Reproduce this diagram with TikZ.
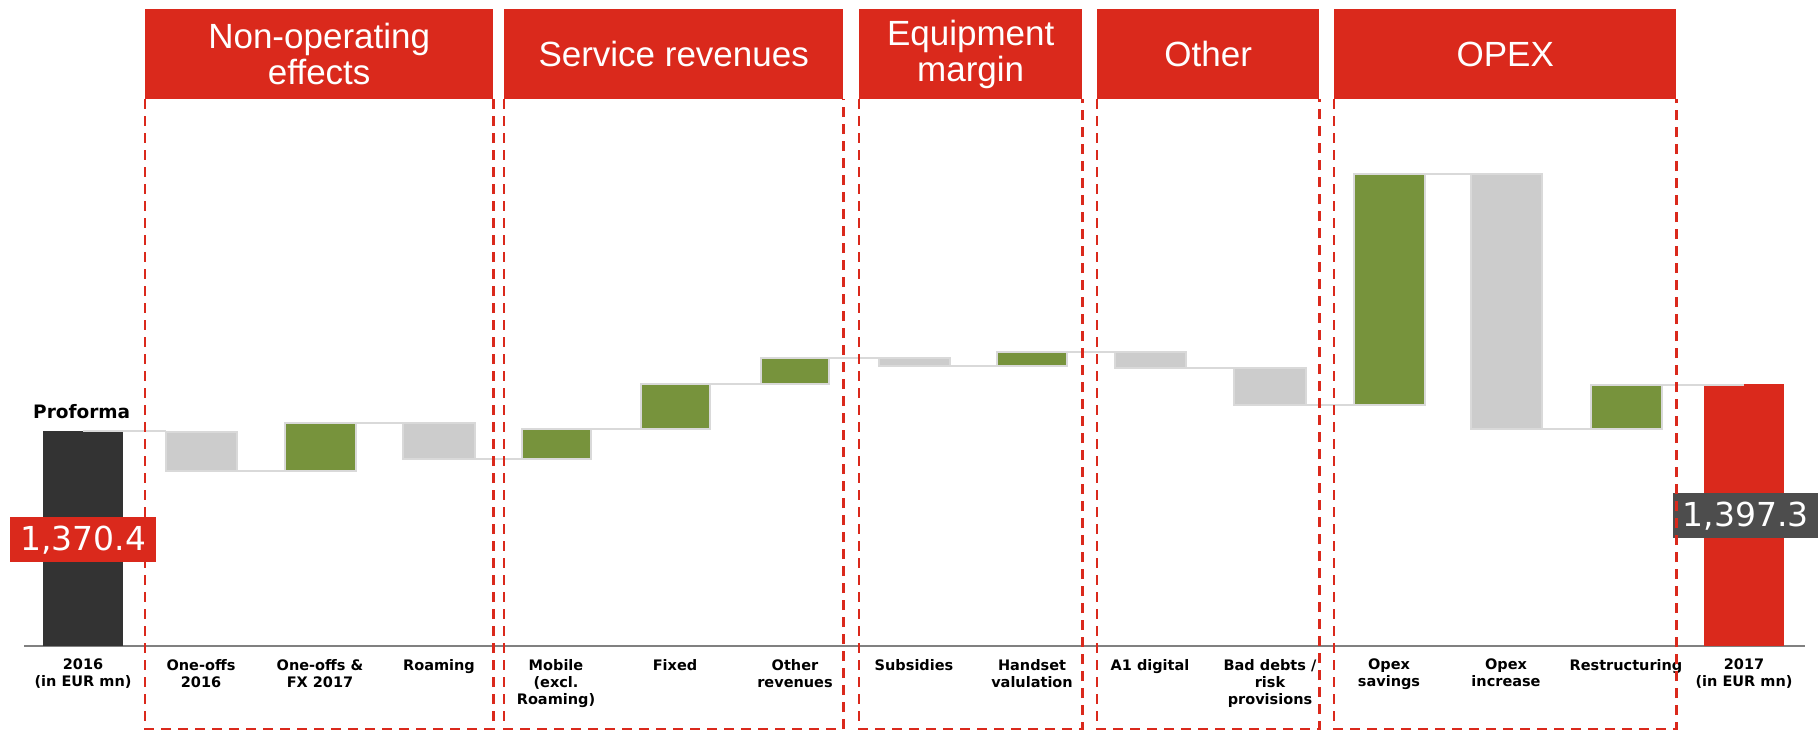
\documentclass[tikz,border=0pt]{standalone}
\usepackage{fontspec}
\setmainfont{DejaVu Sans}
\newfontfamily\hdrfont{Liberation Sans}
\usetikzlibrary{fit}
\definecolor{tred}{HTML}{DA291C}
\definecolor{tgreen}{HTML}{77933C}
\definecolor{tgray}{HTML}{CCCCCC}
\definecolor{tline}{HTML}{D9D9D9}
\definecolor{tdark}{HTML}{333333}
\definecolor{tval}{HTML}{4D4D4D}
\definecolor{taxis}{HTML}{808080}
\begin{document}
\begin{tikzpicture}[x=1pt,y=-1pt,
 hdrbox/.style={fill=tred, inner sep=0, text=white, align=center, anchor=north west,
   minimum height=90pt, font=\hdrfont\fontsize{35}{36}\selectfont},
 dashbox/.style={draw=tred, line width=2.5pt, dash pattern=on 10pt off 7pt},
 gbar/.style={fill=tgray, draw=tline, line width=2pt, inner sep=0, outer sep=0},
 grbar/.style={fill=tgreen, draw=tline, line width=2pt, inner sep=0, outer sep=0},
 endbar/.style={inner sep=0, outer sep=0, draw=none},
 conn/.style={draw=tline, line width=2.5pt},
 cat/.style={anchor=north, align=center, inner sep=0, font=\bfseries\fontsize{14.5}{17}\selectfont},
 valbox/.style={text=white, inner sep=0, font=\fontsize{33}{33}\selectfont, anchor=north west, minimum height=45pt},
]
\useasboundingbox (0,0) rectangle (1818,731);
\coordinate (bot) at (0,729);

% headers
\node[hdrbox, minimum width=348pt] (h1) at (145,9) {Non-operating\\effects};
\node[hdrbox, minimum width=339pt] (h2) at (504,9) {Service revenues};
\node[hdrbox, minimum width=223pt] (h3) at (859,9) {Equipment\\margin};
\node[hdrbox, minimum width=222pt] (h4) at (1097,9) {Other};
\node[hdrbox, minimum width=342pt] (h5) at (1334,9) {OPEX};

% axis
\coordinate (axl) at (24,646);
\coordinate (axr) at (1805,646);
\draw[taxis, line width=2.5pt] (axl) -- (axr);

% bars
\node[endbar, fill=tdark, fit={(43,431) (123,646)}] (b2016) {};
\node[gbar, fit={(166,432) (237,471)}] (one16) {};
\node[grbar, fit={(285,423) (356,471)}] (onefx) {};
\node[gbar, fit={(403,423) (475,459)}] (roam) {};
\node[grbar, fit={(522,429) (591,459)}] (mobile) {};
\node[grbar, fit={(641,384) (710,429)}] (fixed) {};
\node[grbar, fit={(761,358) (829,384)}] (othrev) {};
\node[gbar, fit={(879,358) (950,366)}] (subs) {};
\node[grbar, fit={(997,352) (1067,366)}] (hand) {};
\node[gbar, fit={(1115,352) (1186,368)}] (aone) {};
\node[gbar, fit={(1234,368) (1306,405)}] (bad) {};
\node[grbar, fit={(1354,174) (1425,405)}] (osav) {};
\node[gbar, fit={(1471,174) (1542,429)}] (oinc) {};
\node[grbar, fit={(1591,385) (1662,429)}] (restr) {};
\node[endbar, fill=tred, fit={(1704,384) (1784,646)}] (b2017) {};

% connectors (horizontal, from one bar edge to the next bar)
\draw[conn] (b2016.north) -- (b2016.north -| one16.west);
\draw[conn] (one16.south east) -- (one16.south east -| onefx.west);
\draw[conn] (onefx.north east) -- (onefx.north east -| roam.west);
\draw[conn] (roam.south east) -- (roam.south east -| mobile.west);
\draw[conn] (mobile.north east) -- (mobile.north east -| fixed.west);
\draw[conn] (fixed.north east) -- (fixed.north east -| othrev.west);
\draw[conn] (othrev.north east) -- (othrev.north east -| subs.west);
\draw[conn] (subs.south east) -- (subs.south east -| hand.west);
\draw[conn] (hand.north east) -- (hand.north east -| aone.west);
\draw[conn] (aone.south east) -- (aone.south east -| bad.west);
\draw[conn] (bad.south east) -- (bad.south east -| osav.west);
\draw[conn] (osav.north east) -- (osav.north east -| oinc.west);
\draw[conn] (oinc.south east) -- (oinc.south east -| restr.west);
\draw[conn] (restr.north east) -- (restr.north east -| b2017.center);

% labels
\node[anchor=west, inner sep=0, font=\bfseries\fontsize{18.5}{20}\selectfont] (pf) at (33,412) {Proforma};
\node[valbox, fill=tred, minimum width=146pt] (v1) at (10,517) {1,370.4};
\node[valbox, fill=tval, minimum width=145pt] (v2) at (1673,493) {1,397.3};

\node[cat] (l1) at (83,659) {2016\\(in EUR mn)};
\node[cat] (l2) at (201,659) {One-offs\\2016};
\node[cat] (l3) at (320,659) {One-offs \&\\FX 2017};
\node[cat] (l4) at (439,659) {Roaming};
\node[cat] (l5) at (556,659) {Mobile\\(excl.\\Roaming)};
\node[cat] (l6) at (675,659) {Fixed};
\node[cat] (l7) at (795,659) {Other\\revenues};
\node[cat] (l8) at (914,659) {Subsidies};
\node[cat] (l9) at (1032,659) {Handset\\valulation};
\node[cat] (l10) at (1150,659) {A1 digital};
\node[cat] (l11) at (1270,659) {Bad debts /\\risk\\provisions};
\node[cat] (l12) at (1389,659) {Opex\\savings};
\node[cat] (l13) at (1506,659) {Opex\\increase};
\node[cat] (l14) at (1626,659) {Restructuring};
\node[cat] (l15) at (1744,659) {2017\\(in EUR mn)};

% dashed frames
\foreach \h in {h1,h2,h3,h4,h5}{
  \draw[dashbox] (\h.south west) -- (\h.south west |- bot) -- (\h.south east |- bot) -- (\h.south east);
}
\end{tikzpicture}
\end{document}
